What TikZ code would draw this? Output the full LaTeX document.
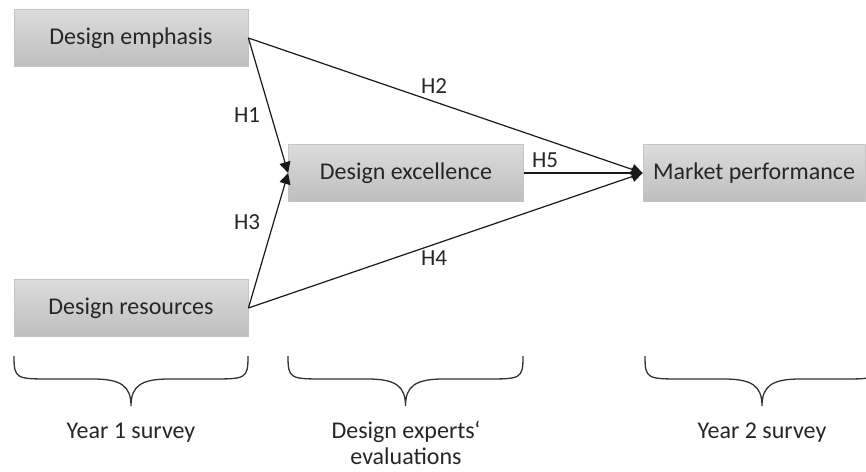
\documentclass[tikz,border=0pt]{standalone}
\usepackage{fontspec}
\setmainfont{Carlito}
\usetikzlibrary{arrows.meta}
\definecolor{boxtop}{HTML}{DCDCDC}
\definecolor{boxbot}{HTML}{BEBEBE}
\definecolor{boxline}{HTML}{C4C4C4}
\tikzset{
  varbox/.style={rectangle, top color=boxtop, bottom color=boxbot, draw=boxline, line width=0.8pt,
    minimum width=234pt, minimum height=57pt, inner sep=0pt, font=\fontsize{24}{28}\selectfont, text=black!85},
  hyp/.style={font=\fontsize{23}{27}\selectfont, text=black!85},
  lbl/.style={font=\fontsize{24}{26}\selectfont, text=black!85, align=center, inner sep=1pt},
  link/.style={line width=1.2pt, draw=black!90, -{Triangle[length=11pt,width=11pt]}},
  bracepath/.style={line width=1.3pt, draw=black!80}
}
\begin{document}
\begin{tikzpicture}[x=1pt,y=-1pt]
\useasboundingbox (0,0) rectangle (866,471);
\node[varbox] (emph) at (131,38) {Design emphasis};
\node[varbox] (res) at (131,308) {Design resources};
\node[varbox, minimum width=235pt] (exc) at (406,173) {Design excellence};
\node[varbox, minimum width=222pt] (mkt) at (754,173) {Market performance};

\draw[link] (emph.east) -- (exc.west);
\draw[link] (res.east) -- (exc.west);
\draw[link] (emph.east) -- (mkt.west);
\draw[link] (res.east) -- (mkt.west);
\draw[link] (exc.east) -- (mkt.west);

\node[hyp] (h1) at (247,115) {H1};
\node[hyp] (h3) at (247,222) {H3};
\node[hyp] (h2) at (434,86) {H2};
\node[hyp] (h4) at (434,258) {H4};
\node[hyp] (h5) at (545,160) {H5};

\foreach \a/\b [evaluate=\a as \m using (\a+\b)/2] in {14/248, 288/523, 645/879}{
  \draw[bracepath] (\a,356) .. controls (\a,379) and (\a+2,379) .. (\a+38,379)
     -- (\m-38,379) .. controls (\m-10,379) and (\m,386) .. (\m,406)
     .. controls (\m,386) and (\m+10,379) .. (\m+38,379)
     -- (\b-38,379) .. controls (\b-2,379) and (\b,379) .. (\b,356);
}
\node[lbl] (y1) at (131,433) {Year 1 survey};
\node[lbl] (dx) at (406,443) {Design experts‘\\evaluations};
\node[lbl] (y2) at (762,433) {Year 2 survey};
\end{tikzpicture}
\end{document}
